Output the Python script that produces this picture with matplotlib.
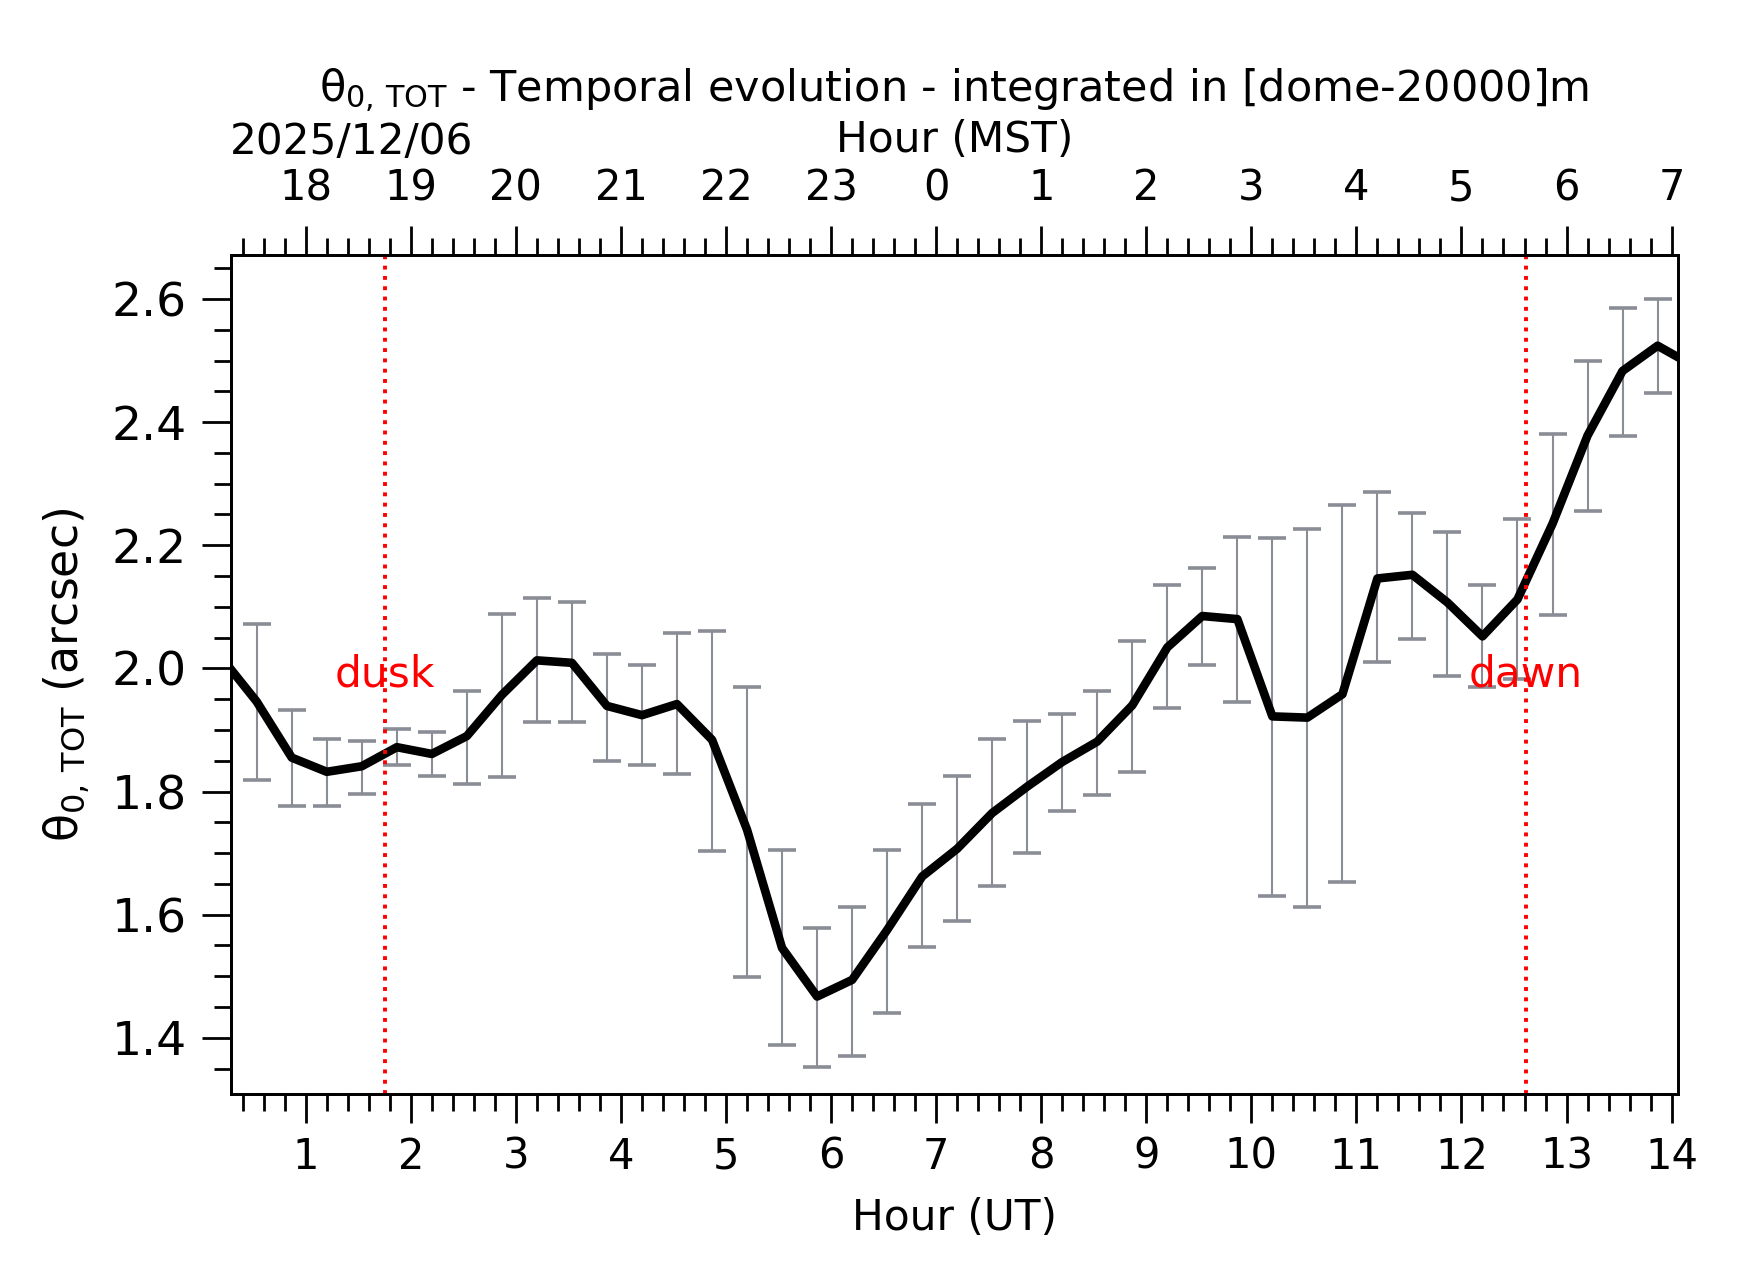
import numpy as np
import matplotlib
matplotlib.use('Agg')
import matplotlib.pyplot as plt
from matplotlib.ticker import MultipleLocator

# 
# Data: 20-min bins in UT hours, integrated isoplanatic angle
hour_ut = [0.200, 0.533, 0.867, 1.200, 1.533, 1.867, 2.200, 2.533, 2.867, 3.200,
           3.533, 3.867, 4.200, 4.533, 4.867, 5.200, 5.533, 5.867, 6.200, 6.533,
           6.867, 7.200, 7.533, 7.867, 8.200, 8.533, 8.867, 9.200, 9.533, 9.867,
           10.200, 10.533, 10.867, 11.200, 11.533, 11.867, 12.200, 12.533, 12.867, 13.200,
           13.533, 13.867, 14.200]
theta0 = [2.017, 1.946, 1.855, 1.832, 1.841, 1.872, 1.861, 1.890, 1.957, 2.013,
          2.009, 1.939, 1.924, 1.942, 1.884, 1.738, 1.546, 1.467, 1.494, 1.575,
          1.662, 1.707, 1.765, 1.808, 1.848, 1.881, 1.940, 2.034, 2.085, 2.080,
          1.922, 1.920, 1.958, 2.146, 2.152, 2.107, 2.052, 2.112, 2.235, 2.378,
          2.483, 2.524, 2.492]
err_hi = [2.12, 2.072, 1.933, 1.886, 1.882, 1.901, 1.897, 1.964, 2.089, 2.114,
          2.107, 2.023, 2.005, 2.058, 2.061, 1.969, 1.705, 1.579, 1.613, 1.705,
          1.779, 1.826, 1.886, 1.915, 1.926, 1.964, 2.045, 2.136, 2.163, 2.213,
          2.211, 2.226, 2.266, 2.286, 2.253, 2.222, 2.136, 2.242, 2.381, 2.499,
          2.586, 2.600, 2.57]
err_lo = [1.91, 1.819, 1.776, 1.776, 1.796, 1.843, 1.826, 1.812, 1.823, 1.913,
          1.913, 1.850, 1.843, 1.828, 1.704, 1.498, 1.389, 1.353, 1.371, 1.441,
          1.548, 1.590, 1.646, 1.700, 1.769, 1.794, 1.832, 1.935, 2.005, 1.946,
          1.631, 1.613, 1.653, 2.011, 2.047, 1.987, 1.969, 1.982, 2.087, 2.255,
          2.378, 2.448, 2.41]

dusk_ut = 1.75
dawn_ut = 12.61
x_min, x_max = 0.29, 14.06
ut_ticks = list(range(1, 15))
mst_labels = ['18', '19', '20', '21', '22', '23', '0', '1', '2', '3', '4', '5', '6', '7']
date_str = '2025/12/06'

fs = 15.2
plt.rcParams['font.family'] = ['DejaVu Sans']
plt.rcParams['font.size'] = fs

hour_ut = np.array(hour_ut)
theta0 = np.array(theta0)
yerr = np.array([theta0 - np.array(err_lo), np.array(err_hi) - theta0])
# only bins whose centre is inside the plotted window get an error bar
inside = (hour_ut >= x_min) & (hour_ut <= x_max)

# 
# Plot
fig = plt.figure(figsize=(8.71, 6.41), dpi=200)
ax = fig.add_axes([0.1327, 0.1463, 0.8305, 0.6551])

ax.errorbar(hour_ut[inside], theta0[inside], yerr=yerr[:, inside], fmt='none', ecolor='#8a8d96',
            elinewidth=0.75, capsize=5.2, capthick=1.3, zorder=2)
ax.plot(hour_ut, theta0, color='black', lw=3.1, zorder=3)

ax.axvline(dusk_ut, color='red', ls=':', lw=1.4, zorder=4)
ax.axvline(dawn_ut, color='red', ls=':', lw=1.4, zorder=4)
ax.text(dusk_ut, 1.99, 'dusk', color='red', ha='center', va='center', fontsize=fs)
ax.text(dawn_ut, 1.99, 'dawn', color='red', ha='center', va='center', fontsize=fs)

ax.set_xlim(x_min, x_max)
ax.set_ylim(1.308, 2.672)
ax.set_xticks(ut_ticks)
ax.xaxis.set_minor_locator(MultipleLocator(0.2))
ax.yaxis.set_major_locator(MultipleLocator(0.2))
ax.yaxis.set_minor_locator(MultipleLocator(0.05))
ax.set_xlabel('Hour (UT)', fontsize=fs, labelpad=7)
ax.set_ylabel(r'θ$_{0,\,\mathrm{TOT}}$ (arcsec)', fontsize=16.5, labelpad=7)

for sp in ax.spines.values():
    sp.set_linewidth(1.0)
ax.tick_params(which='major', direction='out', length=10.4, width=1.0, pad=4.5)
ax.tick_params(which='minor', direction='out', length=6, width=1.0)
ax.tick_params(axis='x', which='major', labelsize=15)
ax.tick_params(axis='y', which='major', labelsize=17, pad=5.5)
ax.tick_params(axis='x', which='both', top=False)
ax.tick_params(axis='y', which='both', right=False)

# top axis in local time
ax_top = ax.twiny()
ax_top.set_xlim(ax.get_xlim())
ax_top.set_xticks(ut_ticks)
ax_top.set_xticklabels(mst_labels)
ax_top.xaxis.set_minor_locator(MultipleLocator(0.2))
ax_top.tick_params(which='major', direction='out', length=10.4, width=1.0, labelsize=15, pad=6)
ax_top.tick_params(which='minor', direction='out', length=6, width=1.0)
for sp in ax_top.spines.values():
    sp.set_linewidth(1.0)
ax_top.set_xlabel('Hour (MST)', fontsize=fs, labelpad=5.5)
ax_top.set_title(r'θ$_{0,\,\mathrm{TOT}}$ - Temporal evolution - integrated in [dome-20000]m',
                 fontsize=15.5, pad=6)
fig.text(0.202, 0.889, date_str, ha='center', va='center', fontsize=fs)

fig.savefig('out.png', dpi=200)
